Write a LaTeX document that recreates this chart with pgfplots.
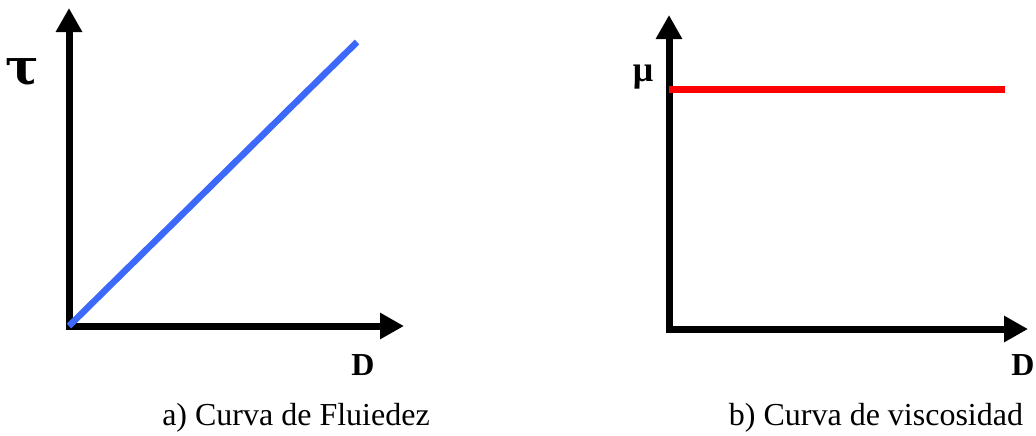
\documentclass[border=0pt]{standalone}
\usepackage{pgfplots}
\pgfplotsset{compat=1.18}
\usepackage{fontspec}
\setmainfont{Liberation Serif}
\newfontfamily\greekfont{DejaVu Serif}
\usetikzlibrary{arrows.meta}

\definecolor{flowblue}{RGB}{60,105,250}
\definecolor{viscred}{RGB}{255,0,0}

\pgfplotsset{
  rheo/.style={
    x=0.5pt, y=0.5pt,
    axis lines=left,
    xtick=\empty, ytick=\empty,
    clip=false,
    xmin=0, ymin=0,
    axis line style={line width=3.5pt, line cap=rect,
      -{Triangle[width=12.5pt,length=12pt]}},
    anchor=origin,
  },
}

\begin{document}
\begin{tikzpicture}
\useasboundingbox (0,0) rectangle (518pt,217.5pt);

% a) flow curve: shear stress grows linearly with shear rate
\begin{axis}[rheo, at={(34.5pt,54.5pt)}, xmax=335, ymax=318]
  \addplot[flowblue, line width=3.25pt, no markers] coordinates {(0,0) (288,284)};
  \node[font=\greekfont\fontsize{25}{28}\selectfont\bfseries] at (axis cs:-47,254) {τ};
  \node[font=\fontsize{16}{19}\selectfont\bfseries] at (axis cs:294,-39) {D};
  \node[font=\fontsize{16}{19}\selectfont] at (axis cs:227,-92) {a) Curva de Fluiedez};
\end{axis}

% b) viscosity curve: constant viscosity
\begin{axis}[rheo, at={(334.5pt,53pt)}, xmax=359, ymax=314]
  \addplot[viscred, line width=3.5pt, no markers] coordinates {(0,240) (336,240)};
  \node[font=\fontsize{18}{21}\selectfont\bfseries] at (axis cs:-26,252) {μ};
  \node[font=\fontsize{16}{19}\selectfont\bfseries] at (axis cs:354,-36) {D};
  \node[font=\fontsize{16}{19}\selectfont] at (axis cs:207,-89) {b) Curva de viscosidad};
\end{axis}
\end{tikzpicture}
\end{document}
